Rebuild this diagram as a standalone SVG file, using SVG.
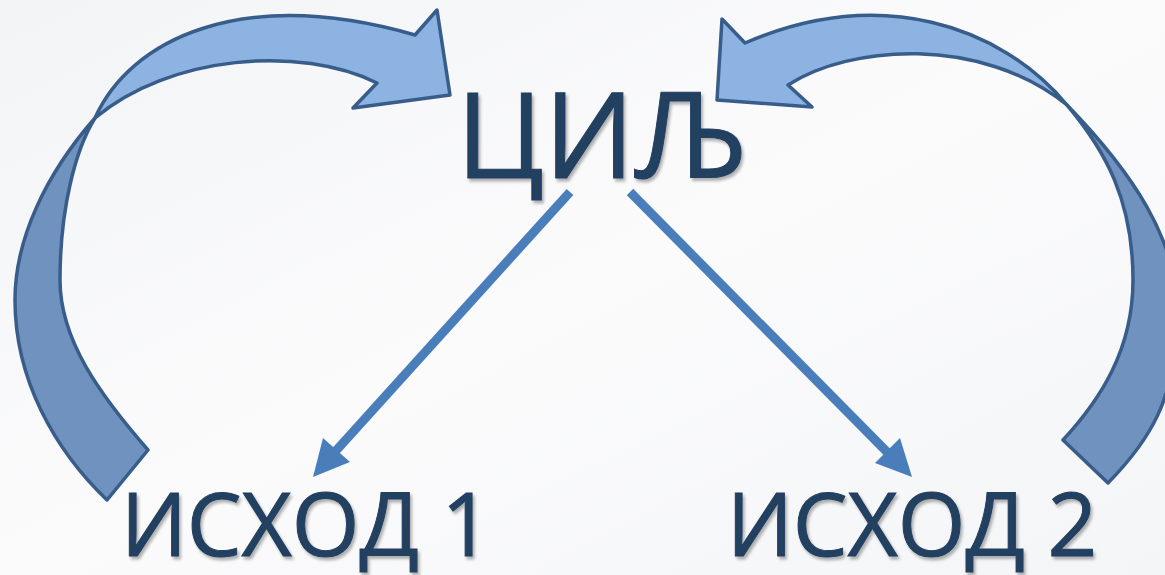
<svg xmlns="http://www.w3.org/2000/svg" width="1165" height="575" viewBox="0 0 1165 575">
<style>
.txt{font-family:"Open Sans","Noto Sans","DejaVu Sans",sans-serif;fill:#243F60;stroke:#243F60;stroke-width:1;text-anchor:middle}
.sh{filter:url(#sh)}
.light{fill:#8DB3E2;stroke:#385D8A;stroke-width:3.5;stroke-linejoin:round}
.dark{fill:#7092BE;stroke:#385D8A;stroke-width:3.5;stroke-linejoin:round}
.conn{stroke:#4A7EBB;stroke-width:9;fill:none}
.head{fill:#4A7EBB}
</style>
<defs>
<filter id="sh" x="-5%" y="-5%" width="110%" height="110%">
<feDropShadow dx="2" dy="3" stdDeviation="1.5" flood-color="#000" flood-opacity="0.3"/>
</filter>
<linearGradient id="bg" x1="0" y1="0" x2="1" y2="1">
<stop offset="0" stop-color="#F3F4F6"/>
<stop offset="0.5" stop-color="#FBFBFC"/>
<stop offset="1" stop-color="#F4F5F7"/>
</linearGradient>
</defs>
<rect width="1165" height="575" fill="url(#bg)"/>
<g id="loop-left">
<path class="dark" d="M95,118 C45,175 15,240 15,300 C15,380 55,450 107,500 L148,450 C100,395 60,340 60,280 C60,210 75,150 95,118 Z"/>
<path class="light" d="M415,35 L437,10 L450,95 L353,108 L377,83 C300,45 170,55 95,118 C130,40 240,-15 415,35 Z"/>
</g>
<g id="loop-right">
<path class="dark" d="M1067,105 C1130,170 1180,240 1178,320 C1175,400 1150,440 1108,483 L1063,440 C1100,400 1133,350 1133,280 C1133,200 1105,150 1067,105 Z"/>
<path class="light" d="M745,43 L722,19 L717,100 L812,107 L788,85 C850,45 980,35 1067,105 C1000,25 880,-15 745,43 Z"/>
</g>
<g id="connectors">
<line class="conn" x1="570" y1="192" x2="333" y2="454"/>
<polygon class="head" points="313,477 323,438 350,462"/>
<line class="conn" x1="630" y1="192" x2="890" y2="455"/>
<polygon class="head" points="912,477 875,463 900,438"/>
</g>
<g id="goal" class="sh"><text class="txt" x="601" y="178" font-size="119">ЦИЉ</text></g>
<g id="outcome1" class="sh"><text class="txt" x="306" y="556" font-size="87">ИСХОД 1</text></g>
<g id="outcome2" class="sh"><text class="txt" x="912" y="556" font-size="87">ИСХОД 2</text></g>
</svg>
